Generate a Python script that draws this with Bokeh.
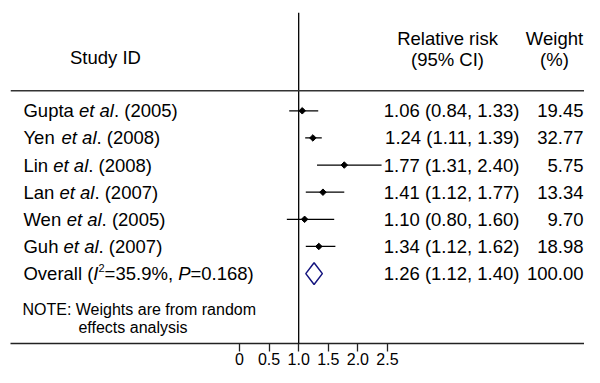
import math
from bokeh.plotting import figure
from bokeh.models import Range1d, FixedTicker, Span, ColumnDataSource
from bokeh.core.properties import value
from bokeh.embed import file_html
from bokeh.resources import INLINE

# ---------------- data ----------------
studies = ["Gupta", "Yen", "Lin", "Lan", "Wen", "Guh"]
years = ["2005", "2008", "2008", "2007", "2005", "2007"]
rr = [1.06, 1.24, 1.77, 1.41, 1.10, 1.34]
ci_low = [0.84, 1.11, 1.31, 1.12, 0.80, 1.12]
ci_high = [1.33, 1.39, 2.40, 1.77, 1.60, 1.62]
weights = [19.45, 32.77, 5.75, 13.34, 9.70, 18.98]
overall_rr = 1.26
overall_low = 1.12
overall_high = 1.40
overall_weight = 100.00
i_squared = 35.9
p_het = 0.168
ticks = [0, 0.5, 1.0, 1.5, 2.0, 2.5]
tick_labels = ["0", "0.5", "1.0", "1.5", "2.0", "2.5"]

FONT = "Liberation Sans"
FS = 18.5

# Arial / Liberation Sans advance widths (per 1000 em) for text-run placement
W = {' ': 278, '(': 333, ')': 333, '.': 278, ',': 278, '%': 889, '=': 584, ':': 278}
for d in "0123456789":
    W[d] = 556
W.update({'A': 667, 'C': 722, 'D': 722, 'E': 667, 'G': 778, 'I': 278, 'L': 556, 'N': 722,
          'O': 778, 'P': 667, 'R': 722, 'S': 667, 'T': 611, 'W': 944, 'Y': 667,
          'a': 556, 'd': 556, 'e': 556, 'f': 278, 'g': 556, 'h': 556, 'i': 222, 'k': 500,
          'l': 222, 'm': 833, 'n': 556, 'o': 556, 'p': 556, 'r': 333, 's': 500, 't': 278,
          'u': 556, 'v': 500, 'y': 500})


def tw(s, size):
    return sum(W.get(c, 556) for c in s) * size / 1000.0


n = len(studies)
rows = list(range(n))
overall_row = n

p = figure(width=584, height=367, output_backend="svg", toolbar_location=None,
           x_range=Range1d(-3.868, 5.828), y_range=Range1d(8.577, -3.623),
           min_border_left=10, min_border_right=0, min_border_top=12, min_border_bottom=0,
           y_axis_location=None)
p.outline_line_color = None
p.xgrid.visible = False
p.ygrid.visible = False
p.background_fill_color = "white"
p.border_fill_color = "white"

# axis
p.xaxis.ticker = FixedTicker(ticks=ticks)
p.xaxis.major_label_overrides = {float(t): lab for t, lab in zip(ticks, tick_labels)}
p.xaxis.minor_tick_line_color = None
p.xaxis.major_tick_in = 0
p.xaxis.major_tick_out = 8
p.xaxis.major_label_standoff = 1
p.xaxis.axis_line_width = 1.3
p.xaxis.axis_line_color = "#222222"
p.xaxis.major_tick_line_width = 1.3
p.xaxis.major_tick_line_color = "#222222"
p.xaxis.major_label_text_font = FONT
p.xaxis.major_label_text_font_size = "16px"
p.xaxis.major_label_text_color = "black"

# reference lines
p.add_layout(Span(location=1, dimension="height", line_color="black", line_width=1.3))
p.add_layout(Span(location=-0.739, dimension="width", line_color="#333333", line_width=1.3))

# CIs and points
p.segment(x0=ci_low, y0=rows, x1=ci_high, y1=rows, line_color="black", line_width=1.3)
p.scatter(x=rr, y=rows, marker="square", angle=math.pi / 4, size=4.6,
          fill_color="black", line_color="black")

# overall diamond
h = 0.4
p.patch(x=[overall_low, overall_rr, overall_high, overall_rr],
        y=[overall_row, overall_row - h, overall_row, overall_row + h],
        fill_color="white", fill_alpha=0, line_color="#14147e", line_width=1.5)

# ---------------- texts ----------------
LX = -3.649
runs = dict(x=[], y=[], xo=[], yo=[], text=[], style=[], size=[])


def add_rich(x, y, pieces):
    off = 0.0
    for txt, style, size, yo in pieces:
        runs["x"].append(x)
        runs["y"].append(y)
        runs["xo"].append(off)
        runs["yo"].append(yo)
        runs["text"].append(txt)
        runs["style"].append(style)
        runs["size"].append(f"{size}px")
        off += tw(txt, size)


for i, (s, yr) in enumerate(zip(studies, years)):
    add_rich(LX, i, [(s + " ", "normal", FS, 0),
                     ("et al", "italic", FS, 0),
                     (f". ({yr})", "normal", FS, 0)])

add_rich(LX, overall_row, [("Overall (", "normal", FS, 0),
                           ("I", "italic", FS, 0),
                           ("2", "normal", 11, -6),
                           (f"={i_squared}%, ", "normal", FS, 0),
                           ("P", "italic", FS, 0),
                           (f"={p_het})", "normal", FS, 0)])

src = ColumnDataSource(runs)
p.text(x="x", y="y", x_offset="xo", y_offset="yo", text="text", source=src,
       text_font=value(FONT), text_font_style="style", text_font_size="size",
       text_baseline="middle", text_align="left", text_color="black")

# right-hand columns
RR_X = 4.730
WT_X = 5.811
rr_text = [f"{a:.2f} ({b:.2f}, {c:.2f})" for a, b, c in zip(rr, ci_low, ci_high)]
rr_text.append(f"{overall_rr:.2f} ({overall_low:.2f}, {overall_high:.2f})")
wt_text = [f"{w:.2f}" for w in weights] + [f"{overall_weight:.2f}"]
all_rows = rows + [overall_row]
p.text(x=[RR_X] * len(all_rows), y=all_rows, text=rr_text, text_font=value(FONT),
       text_font_size=f"{FS}px", text_align="right", text_baseline="middle", text_color="black")
p.text(x=[WT_X] * len(all_rows), y=all_rows, text=wt_text, text_font=value(FONT),
       text_font_size=f"{FS}px", text_align="right", text_baseline="middle", text_color="black")

# headers
hdr_x = [-2.264, 3.514, 3.514, 5.321, 5.321]
hdr_y = [-1.959, -2.662, -1.885, -2.662, -1.885]
hdr_t = ["Study ID", "Relative risk", "(95% CI)", "Weight", "(%)"]
p.text(x=hdr_x, y=hdr_y, text=hdr_t, text_font=value(FONT), text_font_size=f"{FS}px",
       text_align="center", text_baseline="middle", text_color="black")

# note
p.text(x=[-3.666, -2.720], y=[7.32, 7.985],
       text=["NOTE: Weights are from random", "effects analysis"],
       text_font=value(FONT), text_font_size="16px", text_align="left",
       text_baseline="middle", text_color="black")

open("out.html", "w").write(file_html(p, INLINE))
